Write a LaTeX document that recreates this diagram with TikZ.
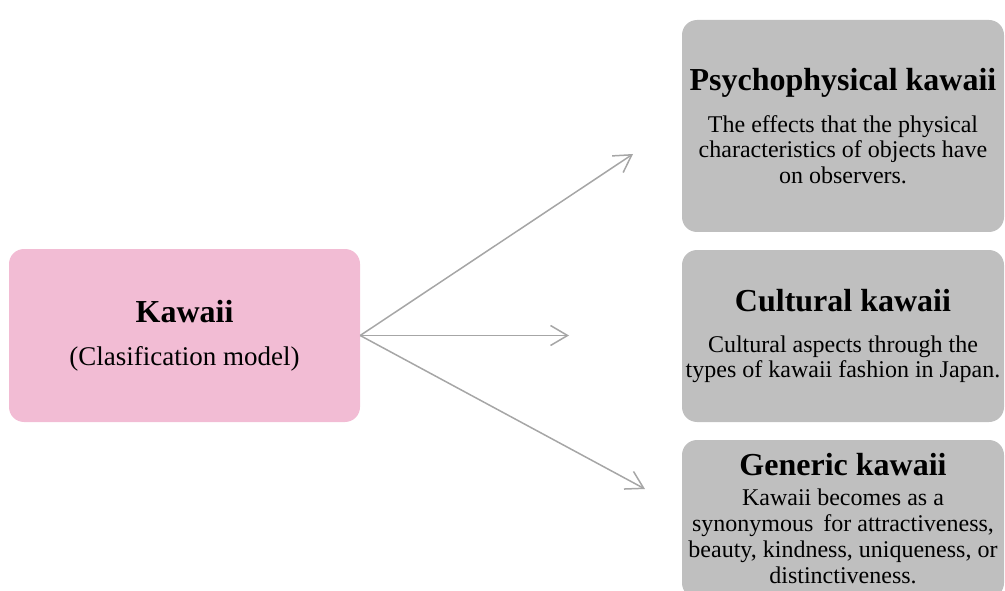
\documentclass[tikz,border=0pt]{standalone}
\usepackage{fontspec}
\setmainfont{Liberation Serif}
\usetikzlibrary{arrows.meta}

\definecolor{kawaiipink}{RGB}{242,188,212}
\definecolor{kindgray}{RGB}{191,191,191}
\definecolor{branchgray}{RGB}{166,166,166}

\newcommand{\headfont}{\fontsize{32}{36}\selectfont\bfseries\spaceskip=0.25em\relax}
\newcommand{\bodyfont}{\fontsize{24}{25.5}\selectfont\spaceskip=0.25em\relax}

\begin{document}
\begin{tikzpicture}
[x=1pt,y=-1pt,>={Straight Barb[length=17pt,width=20pt]},
  branch/.style={->,draw=branchgray,line width=1.5pt},
  root/.style={fill=kawaiipink,rounded corners=15pt,text width=351pt,
    minimum height=173pt,align=center,inner sep=0pt},
  kind/.style={fill=kindgray,rounded corners=15pt,text width=322pt,
    minimum height=#1,align=center,inner sep=0pt}]
\useasboundingbox (0,0) rectangle (1005,591);
\node[root] (kawaii) at (184.5,335.5)
  {{\headfont Kawaii\par}\vspace{13pt}
   {\fontsize{27}{30}\selectfont\spaceskip=0.25em\relax (Clasification model)\par}};
\node[kind=212pt] (psycho) at (843,126)
  {{\headfont Psychophysical kawaii\par}\vspace{16.5pt}
   {\bodyfont The effects that the physical\\
    characteristics of objects have\\
    on observers.\par}};
\node[kind=172pt] (cultural) at (843,336)
  {{\headfont Cultural kawaii\par}\vspace{15pt}
   {\bodyfont Cultural aspects through the\\
    types of kawaii fashion in Japan.\par}};
\node[kind=158pt] (generic) at (843,519)
  {{\headfont Generic kawaii\par}\vspace{4pt}
   {\bodyfont\baselineskip=26pt Kawaii becomes as a\\
    synonymous\hspace{4pt} for attractiveness,\\
    beauty, kindness, uniqueness, or\\
    distinctiveness.\par}};
\coordinate (psychotip) at (633,154);
\coordinate (culturaltip) at (569,335.5);
\coordinate (generictip) at (645,489);
\draw[branch] (kawaii.east) -- (psychotip);
\draw[branch] (kawaii.east) -- (culturaltip);
\draw[branch] (kawaii.east) -- (generictip);
\end{tikzpicture}
\end{document}
